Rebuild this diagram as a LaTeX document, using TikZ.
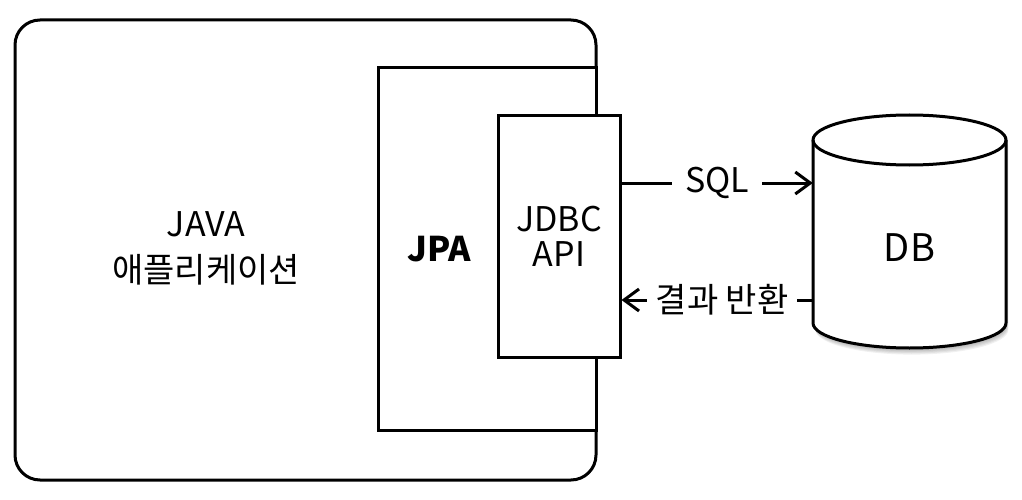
\documentclass[tikz,border=0pt]{standalone}
\usepackage{fontspec}
\setmainfont{Noto Sans CJK KR}
\usetikzlibrary{arrows.meta, positioning}

\tikzset{
  box/.style={draw, line width=3pt, fill=white, inner sep=0pt},
  arr/.style={line width=3pt, -{Straight Barb[length=15pt, width=22pt, line width=3pt]}},
  lbl/.style={fill=white, inner sep=0pt, minimum width=90pt, minimum height=30pt}
}

\begin{document}
\begin{tikzpicture}[x=1pt, y=1pt, font=\fontsize{34}{35}\selectfont]
  \useasboundingbox (0,0) rectangle (1022,499);
  % Application
  \node[box, rounded corners=25pt, minimum width=581pt, minimum height=460pt] (app) at (305.5,249) {};
  \node[align=center, font=\fontsize{34}{46}\selectfont] (applbl) at (206,251) {JAVA\\애플리케이션};
  % JPA
  \node[box, minimum width=218pt, minimum height=362pt] (jpa) at (487,250) {};
  \node[font=\fontsize{34}{35}\selectfont\bfseries] (jpalbl) at (439,250) {JPA};
  % JDBC
  \node[box, minimum width=122pt, minimum height=241pt, align=center] (jdbc) at (559,262.5) {JDBC\\API};
  % DB shadow
  \foreach \s in {1,...,6}
    \fill[black, opacity=0.06, shift={(0.4*\s,-1.1*\s)}]
      (813,359) -- (813,176) arc[start angle=180, end angle=360, x radius=96.5, y radius=25]
      -- (1006,359) arc[start angle=0, end angle=180, x radius=96.5, y radius=25] -- cycle;
  % DB
  \draw[line width=3pt, fill=white]
    (813,359) -- (813,176) arc[start angle=180, end angle=360, x radius=96.5, y radius=25]
    -- (1006,359) arc[start angle=0, end angle=180, x radius=96.5, y radius=25] -- cycle;
  \draw[line width=3pt] (813,359) arc[start angle=180, end angle=360, x radius=96.5, y radius=25];
  \node[minimum width=193pt, minimum height=183pt, inner sep=0pt, font=\fontsize{38}{40}\selectfont] (db) at (909.5,251) {DB};

  \coordinate (sqlrow) at (0,316);
  \coordinate (retrow) at (0,199);
  \draw[arr] (jdbc.east |- sqlrow) -- node[lbl]{SQL} (db.west |- sqlrow);
  \draw[arr] (db.west |- retrow) -- node[lbl, minimum width=150pt, xshift=5pt]{결과 반환} (jdbc.east |- retrow);
\end{tikzpicture}
\end{document}
